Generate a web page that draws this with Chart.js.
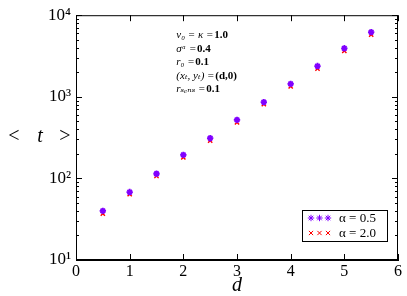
<!DOCTYPE html>
<html>
<head>
<meta charset="utf-8">
<script src="https://cdn.jsdelivr.net/npm/chart.js@4.4.0/dist/chart.umd.min.js"></script>
<style>
  html, body { margin: 0; padding: 0; background: #fff; }
</style>
</head>
<body>
<canvas id="chart" width="407" height="296"></canvas>
<script>
// distance d and mean time <t> for the two alpha values
const distances = [0.5, 1.0, 1.5, 2.0, 2.5, 3.0, 3.5, 4.0, 4.5, 5.0, 5.5];
const tAlpha05 = [40, 68, 114, 194, 311, 521, 860, 1440, 2380, 3930, 6210];
const tAlpha20 = [37, 64, 107, 181, 290, 486, 813, 1343, 2220, 3660, 5790];
const seriesLabels = ['α = 0.5', 'α = 2.0'];

const xTicks = [0, 1, 2, 3, 4, 5, 6];
const yTicks = [10, 100, 1000, 10000];
const yTickLabels = ['10¹', '10²', '10³', '10⁴'];

const paramLines = [
  ['v₀ = κ =', '1.0'],
  ['σᵅ =', '0.4'],
  ['r₀ =', '0.1'],
  ['(xₜ, yₜ) =', '(d,0)'],
  ['rₛₑₙₛ =', '0.1']
];

const serif = '"Liberation Serif", "DejaVu Serif", serif';
const purple = '#8000ff';
const red = '#ff0000';

// inward ticks, frame, parameter text, legend and axis titles
const decorPlugin = {
  id: 'decor',
  afterDraw(chart) {
    const { ctx, chartArea: a, scales } = chart;
    const xs = scales.x, ys = scales.y;
    ctx.save();
    ctx.strokeStyle = '#000';
    ctx.lineWidth = 1;
    ctx.strokeRect(a.left + 0.5, a.top + 0.5, a.right - a.left - 1, a.bottom - a.top - 1);

    ctx.beginPath();
    xTicks.forEach(v => {
      const px = Math.round(xs.getPixelForValue(v)) + 0.5;
      ctx.moveTo(px, a.bottom); ctx.lineTo(px, a.bottom - 6);
      ctx.moveTo(px, a.top); ctx.lineTo(px, a.top + 6);
    });
    for (let dec = 10; dec <= 10000; dec *= 10) {
      for (let m = 1; m <= 9; m++) {
        const v = dec * m;
        if (v > 10000) break;
        const py = Math.round(ys.getPixelForValue(v)) + 0.5;
        const len = m === 1 ? 6 : 3;
        ctx.moveTo(a.left, py); ctx.lineTo(a.left + len, py);
        ctx.moveTo(a.right, py); ctx.lineTo(a.right - len, py);
      }
    }
    ctx.stroke();

    // parameter block
    ctx.fillStyle = '#000';
    ctx.textBaseline = 'middle';
    ctx.textAlign = 'left';
    const tx = xs.getPixelForValue(2) - 7;
    paramLines.forEach((ln, i) => {
      const ty = a.top + 20 + i * 13.5;
      ctx.font = 'italic 11px ' + serif;
      ctx.fillText(ln[0], tx, ty);
      const w = ctx.measureText(ln[0] + ' ').width;
      ctx.font = 'bold 11px ' + serif;
      ctx.fillText(ln[1], tx + w - 2, ty);
    });

    // legend
    const bx = a.right - 96, by = a.bottom - 50, bw = 85, bh = 31;
    ctx.fillStyle = '#fff';
    ctx.fillRect(bx, by, bw, bh);
    ctx.strokeStyle = '#000';
    ctx.strokeRect(bx + 0.5, by + 0.5, bw, bh);
    chart.data.datasets.forEach((ds, i) => {
      const ry = by + 8 + i * 15;
      ctx.strokeStyle = ds.borderColor;
      ctx.fillStyle = ds.backgroundColor;
      for (let k = 0; k < 3; k++) {
        Chart.helpers.drawPoint(ctx, {
          pointStyle: ds.pointStyle, radius: ds.pointRadius,
          borderWidth: ds.borderWidth, rotation: 0
        }, bx + 9 + k * 8.5, ry);
      }
      ctx.fillStyle = '#000';
      ctx.font = '13px ' + serif;
      ctx.fillText(ds.label, bx + 37, ry + 1);
    });

    // axis titles
    ctx.textAlign = 'center';
    ctx.font = 'italic 20px ' + serif;
    ctx.fillText('d', (a.left + a.right) / 2, 286);
    ctx.font = '20px ' + serif;
    ctx.fillText('<', 14, (a.top + a.bottom) / 2 - 1);
    ctx.fillText('>', 65, (a.top + a.bottom) / 2 - 1);
    ctx.font = 'italic 20px ' + serif;
    ctx.fillText('t', 40, (a.top + a.bottom) / 2 - 1);
    ctx.restore();
  }
};

new Chart(document.getElementById('chart'), {
  type: 'scatter',
  data: {
    datasets: [
      {
        label: seriesLabels[0],
        data: distances.map((d, i) => ({ x: d, y: tAlpha05[i] })),
        pointStyle: 'star',
        pointRadius: 3.2,
        borderWidth: 1.8,
        borderColor: purple,
        backgroundColor: purple
      },
      {
        label: seriesLabels[1],
        data: distances.map((d, i) => ({ x: d, y: tAlpha20[i] })),
        pointStyle: 'crossRot',
        pointRadius: 3,
        borderWidth: 1.4,
        borderColor: red,
        backgroundColor: red
      }
    ]
  },
  options: {
    responsive: false,
    animation: false,
    layout: { padding: { top: 12, right: 9, left: 0, bottom: 0 } },
    plugins: {
      legend: { display: false },
      tooltip: { enabled: false }
    },
    scales: {
      x: {
        type: 'linear',
        min: 0,
        max: 6,
        afterBuildTicks: s => { s.ticks = xTicks.map(v => ({ value: v })); },
        ticks: { color: '#000', font: { family: serif, size: 16 }, padding: 2 },
        grid: { drawOnChartArea: false, drawTicks: false },
        border: { color: '#000' },
        afterFit: s => { s.height = 36; }
      },
      y: {
        type: 'logarithmic',
        min: 10,
        max: 10000,
        afterBuildTicks: s => { s.ticks = yTicks.map(v => ({ value: v })); },
        ticks: {
          color: '#000',
          font: { family: serif, size: 17 },
          padding: 5,
          callback: v => {
            const i = yTicks.indexOf(v);
            return i >= 0 ? yTickLabels[i] : '';
          }
        },
        grid: { drawOnChartArea: false, drawTicks: false },
        border: { color: '#000' },
        afterFit: s => { s.width = 76; }
      }
    }
  },
  plugins: [decorPlugin]
});
</script>
</body>
</html>
